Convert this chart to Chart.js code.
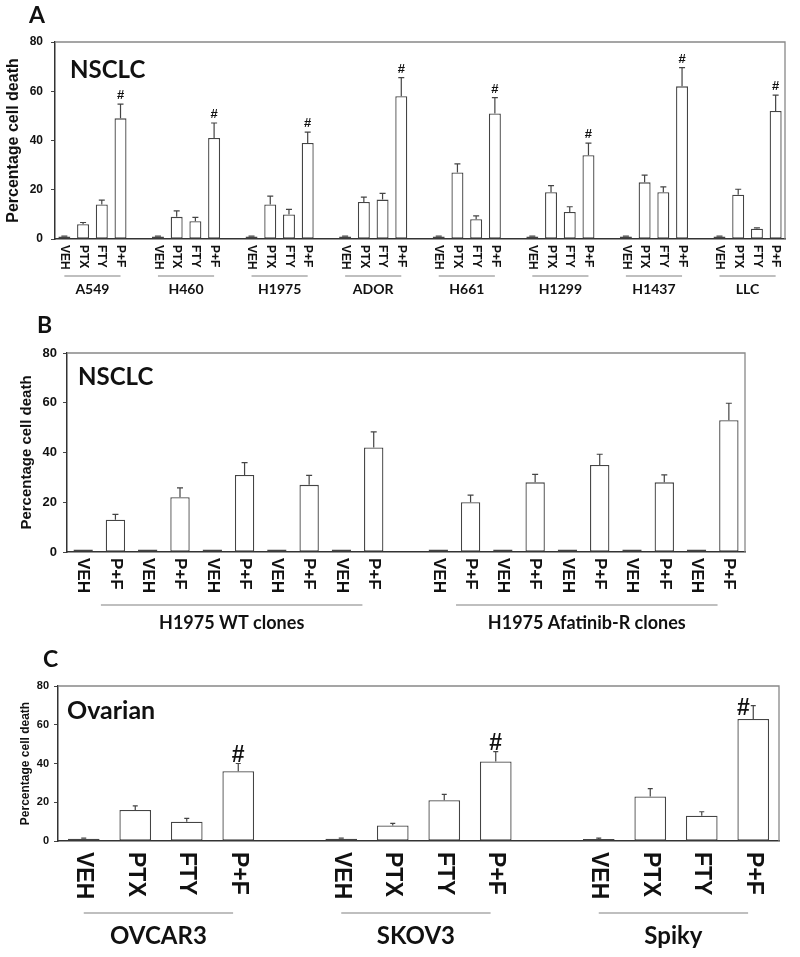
<!DOCTYPE html>
<html>
<head>
<meta charset="utf-8">
<script src="https://cdn.jsdelivr.net/npm/chart.js@4.4.1/dist/chart.umd.min.js"></script>
<style>
    html, body { margin: 0; padding: 0; background: #fff; }
    #wrap { position: relative; width: 800px; height: 957px; }
    .panel { position: absolute; left: 0; width: 800px; }
</style>
</head>
<body>
<div id="wrap">
    <div class="panel" style="top:0;height:300px"><canvas id="chartA"></canvas></div>
    <div class="panel" style="top:300px;height:335px"><canvas id="chartB"></canvas></div>
    <div class="panel" style="top:635px;height:322px"><canvas id="chartC"></canvas></div>
</div>
<script>
// Panel A - NSCLC cell lines
var aLines = ['A549', 'H460', 'H1975', 'ADOR', 'H661', 'H1299', 'H1437', 'LLC'];
var aTreat = ['VEH', 'PTX', 'FTY', 'P+F'];
var aMean = [
    [1, 6, 14, 49],
    [1, 9, 7.2, 41],
    [1, 14, 10, 39],
    [1, 15, 16, 58],
    [1, 27, 8, 51],
    [1, 19, 11, 34],
    [1, 23, 19, 62],
    [1, 18, 4.2, 52]
];
var aErr = [
    [0.2, 0.7, 1.8, 5.8],
    [0.2, 2.4, 1.6, 6.1],
    [0.2, 3.4, 2, 4.4],
    [0.2, 2, 2.5, 7.5],
    [0.2, 3.5, 1.4, 6.4],
    [0.2, 2.7, 2.1, 4.9],
    [0.2, 2.9, 2.2, 7.6],
    [0.2, 2.2, 0.3, 6.4]
];
var aSig = ['P+F'];

// Panel B - H1975 clones
var bGroups = ['H1975 WT clones', 'H1975 Afatinib-R clones'];
var bTreat = ['VEH', 'P+F', 'VEH', 'P+F', 'VEH', 'P+F', 'VEH', 'P+F', 'VEH', 'P+F'];
var bMean = [
    [1, 13, 1, 22, 1, 31, 1, 27, 1, 42],
    [1, 20, 1, 28, 1, 35, 1, 28, 1, 53]
];
var bErr = [
    [0, 2.1, 0, 3.8, 0, 4.9, 0, 3.8, 0, 6.3],
    [0, 2.9, 0, 3.2, 0, 4.3, 0, 3, 0, 6.8]
];
var bSig = [];

// Panel C - ovarian lines
var cLines = ['OVCAR3', 'SKOV3', 'Spiky'];
var cTreat = ['VEH', 'PTX', 'FTY', 'P+F'];
var cMean = [
    [1.2, 16, 10, 36],
    [1.2, 8, 21, 41],
    [1, 23, 13, 63]
];
var cErr = [
    [0.3, 2.1, 1.7, 4],
    [0.3, 1.1, 3.1, 5.1],
    [0.5, 4, 2.1, 6.9]
];
var cSig = ['P+F'];

var yTicks = [0, 20, 40, 60, 80];

Chart.defaults.font.family = '"Liberation Sans", Arial, sans-serif';
Chart.defaults.color = '#111';

// groups side by side, one empty slot between them
function flatten(groups, treat, mean, err, sig) {
    var out = { labels: [], values: [], errors: [], marks: [], spans: [] };
    groups.forEach(function (g, gi) {
        if (gi > 0) {
            out.labels.push(''); out.values.push(null); out.errors.push(null); out.marks.push(false);
        }
        var first = out.labels.length;
        treat.forEach(function (t, ti) {
            out.labels.push(t);
            out.values.push(mean[gi][ti]);
            out.errors.push(err[gi][ti]);
            out.marks.push(sig.indexOf(t) >= 0);
        });
        out.spans.push({ name: g, from: first, to: out.labels.length - 1 });
    });
    return out;
}

var decor = {
    id: 'decor',
    afterDatasetsDraw: function (chart, args, o) {
        var ctx = chart.ctx, y = chart.scales.y;
        var meta = chart.getDatasetMeta(0);
        var ds = chart.data.datasets[0];
        ctx.save();
        ctx.strokeStyle = '#444';
        ctx.lineWidth = 1.2;
        meta.data.forEach(function (bar, i) {
            var v = ds.data[i], e = ds.errors[i];
            if (v == null || !e) return;
            var top = y.getPixelForValue(v + e);
            ctx.beginPath();
            ctx.moveTo(bar.x, bar.y);
            ctx.lineTo(bar.x, top);
            ctx.moveTo(bar.x - o.cap, top);
            ctx.lineTo(bar.x + o.cap, top);
            ctx.stroke();
        });
        // significance marks; if no room above, put it beside the error bar
        ctx.fillStyle = '#111';
        ctx.font = o.hashFont;
        ctx.textBaseline = 'alphabetic';
        meta.data.forEach(function (bar, i) {
            if (!ds.marks[i]) return;
            var top = y.getPixelForValue(ds.data[i] + ds.errors[i]);
            if (top - o.hashGap - o.hashH < chart.chartArea.top + 4) {
                ctx.textAlign = 'right';
                ctx.fillText('#', bar.x - o.cap - 1, top + o.hashH / 2 + 1);
            } else {
                ctx.textAlign = 'center';
                ctx.fillText('#', bar.x, top - o.hashGap);
            }
        });
        ctx.restore();
    },
    afterDraw: function (chart, args, o) {
        var ctx = chart.ctx, x = chart.scales.x, ca = chart.chartArea;
        var slot = (ca.right - ca.left) / chart.data.labels.length;
        ctx.save();
        // frame top and right
        ctx.strokeStyle = '#888';
        ctx.lineWidth = 1.3;
        ctx.beginPath();
        ctx.moveTo(ca.left, ca.top);
        ctx.lineTo(ca.right, ca.top);
        ctx.lineTo(ca.right, ca.bottom);
        ctx.stroke();

        ctx.fillStyle = '#111';
        // panel letter
        ctx.font = o.letterFont;
        ctx.textAlign = 'left';
        ctx.textBaseline = 'middle';
        ctx.fillText(o.letter, o.letterX, o.letterY);
        // panel title
        ctx.font = o.titleFont;
        ctx.fillText(o.title, ca.left + o.titleDX, ca.top + o.titleDY);

        // rotated category labels, reading top to bottom
        ctx.font = o.tickFont;
        chart.data.labels.forEach(function (lab, i) {
            if (!lab) return;
            ctx.save();
            ctx.translate(x.getPixelForValue(i), ca.bottom + o.tickGap);
            ctx.rotate(Math.PI / 2);
            ctx.textAlign = 'left';
            ctx.textBaseline = 'middle';
            ctx.fillText(lab, 0, 0);
            ctx.restore();
        });

        // group underline + name
        chart.data.datasets[0].spans.forEach(function (s) {
            var x0 = x.getPixelForValue(s.from) + o.lineInset[0] * slot;
            var x1 = x.getPixelForValue(s.to) - o.lineInset[1] * slot;
            ctx.strokeStyle = '#aaa';
            ctx.lineWidth = 1.5;
            ctx.beginPath();
            ctx.moveTo(x0, ca.bottom + o.lineGap);
            ctx.lineTo(x1, ca.bottom + o.lineGap);
            ctx.stroke();
            ctx.font = o.groupFont;
            ctx.textAlign = 'center';
            ctx.textBaseline = 'middle';
            ctx.fillText(s.name, (x0 + x1) / 2, ca.bottom + o.groupGap);
        });
        ctx.restore();
    }
};

function makePanel(id, flat, cfg) {
    return new Chart(document.getElementById(id), {
        type: 'bar',
        data: {
            labels: flat.labels,
            datasets: [{
                data: flat.values,
                errors: flat.errors,
                marks: flat.marks,
                spans: flat.spans,
                backgroundColor: '#fff',
                borderColor: '#444',
                borderWidth: 1.3,
                borderSkipped: false,
                barPercentage: cfg.barPct,
                categoryPercentage: 1
            }]
        },
        options: {
            responsive: true,
            maintainAspectRatio: false,
            animation: false,
            layout: { padding: { top: cfg.padTop, right: cfg.padRight, left: 0, bottom: 0 } },
            plugins: {
                legend: { display: false },
                tooltip: { enabled: false },
                decor: cfg.decor
            },
            scales: {
                x: {
                    grid: { display: false },
                    ticks: { display: false },
                    border: { display: true, color: '#333', width: 1.5 },
                    afterFit: function (s) { s.height = cfg.xHeight; }
                },
                y: {
                    min: 0,
                    max: 80,
                    afterBuildTicks: function (s) { s.ticks = yTicks.map(function (v) { return { value: v }; }); },
                    grid: { drawOnChartArea: false, drawTicks: true, tickLength: 4, color: '#444' },
                    border: { display: true, color: '#333', width: 1.5 },
                    ticks: { font: { size: cfg.tickSize, weight: 'bold' }, padding: cfg.tickPad, color: '#111' },
                    title: {
                        display: true,
                        text: 'Percentage cell death',
                        font: { size: cfg.yTitleSize, weight: 'bold' },
                        padding: { top: cfg.yTitlePad, bottom: 0 },
                        color: '#111'
                    },
                    afterFit: function (s) { s.width = cfg.yWidth; }
                }
            }
        },
        plugins: [decor]
    });
}

var lato = '"Lato", "Open Sans", sans-serif';
var arial = '"Liberation Sans", Arial, sans-serif';

makePanel('chartA', flatten(aLines, aTreat, aMean, aErr, aSig), {
    barPct: 0.64, padTop: 42, padRight: 15, xHeight: 61, yWidth: 55,
    tickSize: 12, tickPad: 8, yTitleSize: 16, yTitlePad: 4,
    decor: {
        letter: 'A', letterX: 29, letterY: 16, letterFont: 'bold 23px ' + lato,
        title: 'NSCLC', titleDX: 15, titleDY: 28, titleFont: 'bold 24px ' + lato,
        tickFont: 'bold 12px ' + arial, tickGap: 6,
        lineGap: 37, lineInset: [0, 0], groupGap: 50, groupFont: 'bold 14px ' + lato,
        hashFont: 'bold 13px ' + arial, hashGap: 5, hashH: 9, cap: 3
    }
});

makePanel('chartB', flatten(bGroups, bTreat, bMean, bErr, bSig), {
    barPct: 0.6, padTop: 53, padRight: 55, xHeight: 83, yWidth: 67,
    tickSize: 13, tickPad: 6, yTitleSize: 15, yTitlePad: 18,
    decor: {
        letter: 'B', letterX: 37, letterY: 26, letterFont: 'bold 23px ' + lato,
        title: 'NSCLC', titleDX: 11, titleDY: 24, titleFont: 'bold 24px ' + lato,
        tickFont: 'bold 17px ' + arial, tickGap: 6,
        lineGap: 53, lineInset: [0.55, 0.35], groupGap: 71, groupFont: 'bold 18px ' + lato,
        hashFont: 'bold 12px ' + arial, hashGap: 5, hashH: 9, cap: 3
    }
});

makePanel('chartC', flatten(cLines, cTreat, cMean, cErr, cSig), {
    barPct: 0.615, padTop: 51, padRight: 21, xHeight: 116, yWidth: 58,
    tickSize: 11, tickPad: 5, yTitleSize: 12, yTitlePad: 18,
    decor: {
        letter: 'C', letterX: 43, letterY: 25, letterFont: 'bold 23px ' + lato,
        title: 'Ovarian', titleDX: 9, titleDY: 25, titleFont: 'bold 25px ' + lato,
        tickFont: 'bold 23px ' + arial, tickGap: 11,
        lineGap: 72, lineInset: [0, 0.1], groupGap: 95, groupFont: 'bold 24px ' + lato,
        hashFont: 'bold 23px ' + arial, hashGap: 2, hashH: 17, cap: 2.5
    }
});
</script>
</body>
</html>
